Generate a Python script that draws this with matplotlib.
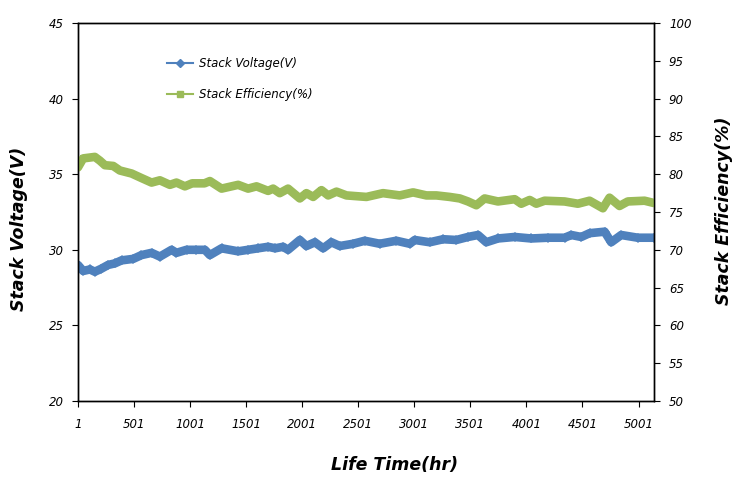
import matplotlib
matplotlib.use("Agg")
import matplotlib.pyplot as plt
from matplotlib.lines import Line2D

# --- data ---
volt_hours = [1, 48, 108, 152, 210, 271, 330, 390, 494, 568, 658, 732, 836, 880,
              970, 1050, 1133, 1178, 1282, 1430, 1519, 1608, 1697, 1760, 1831, 1875,
              1980, 2039, 2114, 2188, 2262, 2336, 2455, 2559, 2693, 2841, 2960, 3005,
              3139, 3258, 3376, 3480, 3569, 3643, 3747, 3896, 4044, 4193, 4341, 4401,
              4490, 4564, 4698, 4757, 4846, 4994, 5136]
voltage = [29.0, 28.6, 28.7, 28.55, 28.75, 29.0, 29.1, 29.3, 29.4, 29.65, 29.8, 29.55,
           30.0, 29.8, 30.0, 30.0, 30.0, 29.65, 30.1, 29.9, 30.0, 30.1, 30.2, 30.1,
           30.2, 30.0, 30.65, 30.25, 30.5, 30.1, 30.5, 30.25, 30.4, 30.6, 30.4, 30.6,
           30.4, 30.65, 30.5, 30.7, 30.65, 30.85, 30.98, 30.5, 30.75, 30.85, 30.75,
           30.8, 30.8, 30.98, 30.85, 31.1, 31.2, 30.5, 30.98, 30.8, 30.8]

eff_hours = [1, 48, 100, 152, 197, 242, 316, 375, 480, 568, 658, 732, 821, 880, 955,
             1020, 1130, 1178, 1282, 1430, 1519, 1594, 1697, 1742, 1801, 1875, 1980,
             2039, 2099, 2173, 2233, 2307, 2396, 2574, 2722, 2871, 2990, 3109, 3198,
             3317, 3406, 3480, 3554, 3628, 3747, 3896, 3955, 4030, 4089, 4163, 4341,
             4460, 4564, 4683, 4742, 4831, 4905, 5054, 5136]
efficiency = [80.9, 82.1, 82.2, 82.3, 81.8, 81.2, 81.1, 80.5, 80.1, 79.5, 78.9, 79.2,
              78.6, 78.9, 78.4, 78.8, 78.8, 79.1, 78.1, 78.6, 78.1, 78.4, 77.8, 78.1,
              77.5, 78.1, 76.8, 77.5, 77.0, 77.9, 77.2, 77.7, 77.2, 77.0, 77.5, 77.2,
              77.6, 77.2, 77.2, 77.0, 76.8, 76.4, 75.9, 76.8, 76.4, 76.7, 76.1, 76.6,
              76.1, 76.5, 76.4, 76.1, 76.5, 75.5, 76.9, 75.8, 76.4, 76.5, 76.2]

x_ticks = [1, 501, 1001, 1501, 2001, 2501, 3001, 3501, 4001, 4501, 5001]
v_ticks = [20, 25, 30, 35, 40, 45]
e_ticks = [50, 55, 60, 65, 70, 75, 80, 85, 90, 95, 100]

blue = "#4F81BD"
green = "#9BBB59"

fig = plt.figure(figsize=(7.42, 4.83), dpi=100)
ax = fig.add_axes([0.105, 0.170, 0.776, 0.782])
ax2 = ax.twinx()

# --- Plotting ---
ax.plot(volt_hours, voltage, color=blue, lw=6.2, marker="D", ms=5, mew=0,
        solid_joinstyle="round", solid_capstyle="round")
ax2.plot(eff_hours, efficiency, color=green, lw=6.2, marker="s", ms=5, mew=0,
         solid_joinstyle="round", solid_capstyle="round")

ax.set_xlim(1, 5136)
ax.set_ylim(20, 45)
ax2.set_ylim(50, 100)

ax.set_xticks(x_ticks)
ax.set_xticklabels([str(t) for t in x_ticks])
ax.set_yticks(v_ticks)
ax2.set_yticks(e_ticks)

for lab in ax.get_xticklabels() + ax.get_yticklabels() + ax2.get_yticklabels():
    lab.set_fontsize(8.5)
    lab.set_fontstyle("italic")

ax.tick_params(axis="x", direction="out", length=4, pad=8)
ax.tick_params(axis="y", direction="out", length=4, pad=6)
ax2.tick_params(axis="y", direction="out", length=4, pad=7)

for a in (ax, ax2):
    for s in a.spines.values():
        s.set_color("black")
        s.set_linewidth(1)

label_font = dict(fontsize=12.5, fontweight="bold", fontstyle="italic")
ax.set_xlabel("Life Time(hr)", **label_font)
ax.xaxis.set_label_coords(0.550, -0.146)
ax.xaxis.label.set_va("top")
ax.set_ylabel("Stack Voltage(V)", **label_font)
ax.yaxis.set_label_coords(-0.087, 0.455)
ax2.set_ylabel("Stack Efficiency(%)", **label_font)
ax2.yaxis.set_label_coords(1.106, 0.503)

handles = [
    Line2D([], [], color=blue, lw=1.5, marker="D", ms=4),
    Line2D([], [], color=green, lw=1.5, marker="s", ms=4),
]
fig.legend(handles, ["Stack Voltage(V)", "Stack Efficiency(%)"],
           loc="upper left", bbox_to_anchor=(0.225, 0.882),
           frameon=False, borderpad=0, borderaxespad=0, handlelength=2.2,
           handletextpad=0.5, labelspacing=1.5,
           prop=dict(size=8.5, style="italic"))

fig.savefig("out.png", dpi=100)
